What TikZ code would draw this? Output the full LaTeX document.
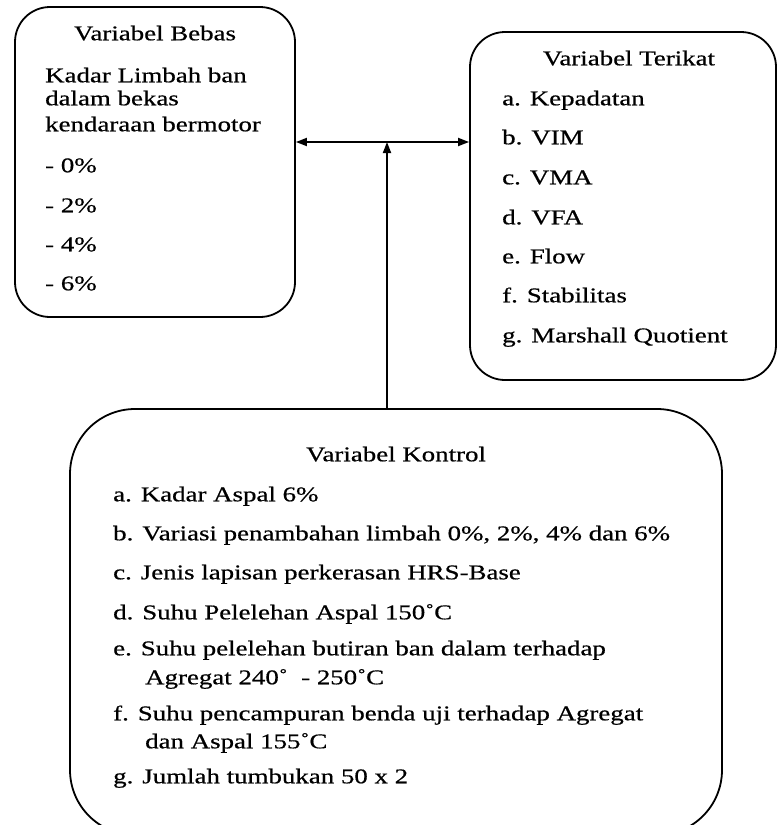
\documentclass[tikz,border=0pt]{standalone}
\usepackage{fontspec}
\setmainfont[FakeStretch=1.28,FakeBold=0.6]{Liberation Serif}
\usetikzlibrary{arrows.meta}
\begin{document}
\begin{tikzpicture}[x=1pt,y=-1pt,
  box/.style={draw, line width=1.8pt, rounded corners=#1, inner sep=0pt},
  txt/.style={anchor=mid west, inner sep=0pt, font=\fontsize{21}{24}\selectfont},
  ttl/.style={anchor=mid, inner sep=0pt, font=\fontsize{21}{24}\selectfont},
  con/.style={line width=1.8pt},
  tipa/.style={-{Triangle[length=11pt,width=8pt]}},
  tipb/.style={{Triangle[length=11pt,width=8pt]}-{Triangle[length=11pt,width=8pt]}}]
\useasboundingbox (0,0) rectangle (778,825);

% boxes
\node[box=35pt, minimum width=280pt, minimum height=310pt] (bebas) at (155,162) {};
\node[box=35pt, minimum width=306pt, minimum height=348pt] (terikat) at (623,206) {};
\node[box=65pt, minimum width=652pt, minimum height=426pt] (kontrol) at (396,622) {};

% Variabel Bebas
\node[ttl] (tb) at (155,38) {Variabel Bebas};
\node[txt] (b1) at (45,80) {Kadar Limbah ban};
\node[txt] (b2) at (45,103) {dalam bekas};
\node[txt] (b3) at (45,129) {kendaraan bermotor};
\node[txt] (b4) at (45,170) {- 0\%};
\node[txt] (b5) at (45,210) {- 2\%};
\node[txt] (b6) at (45,249) {- 4\%};
\node[txt] (b7) at (45,288) {- 6\%};

% Variabel Terikat
\node[ttl] (tt) at (629,63) {Variabel Terikat};
\node[txt] (t1) at (502,103) {a. Kepadatan};
\node[txt] (t2) at (502,142) {b. VIM};
\node[txt] (t3) at (502,182) {c. VMA};
\node[txt] (t4) at (502,222) {d. VFA};
\node[txt] (t5) at (502,261) {e. Flow};
\node[txt] (t6) at (502,300) {f. Stabilitas};
\node[txt] (t7) at (502,340) {g. Marshall Quotient};

% Variabel Kontrol
\node[ttl] (tk) at (396,459) {Variabel Kontrol};
\node[txt] (k1) at (113,499) {a. Kadar Aspal 6\%};
\node[txt] (k2) at (113,538) {b. Variasi penambahan limbah 0\%, 2\%, 4\% dan 6\%};
\node[txt] (k3) at (113,577) {c. Jenis lapisan perkerasan HRS-Base};
\node[txt] (k4) at (113,617) {d. Suhu Pelelehan Aspal 150˚C};
\node[txt] (k5) at (113,653) {e. Suhu pelelehan butiran ban dalam terhadap};
\node[txt] (k5b) at (145,682) {Agregat 240˚\ \ - 250˚C};
\node[txt] (k6) at (113,718) {f. Suhu pencampuran benda uji terhadap Agregat};
\node[txt] (k6b) at (145,746) {dan Aspal 155˚C};
\node[txt] (k7) at (113,781) {g. Jumlah tumbukan 50 x 2};

% connectors
\coordinate (j) at (387,142);
\draw[con, tipb] (bebas.east |- j) -- (terikat.west |- j);
\draw[con, tipa] (kontrol.north -| j) -- (j);
\end{tikzpicture}
\end{document}
